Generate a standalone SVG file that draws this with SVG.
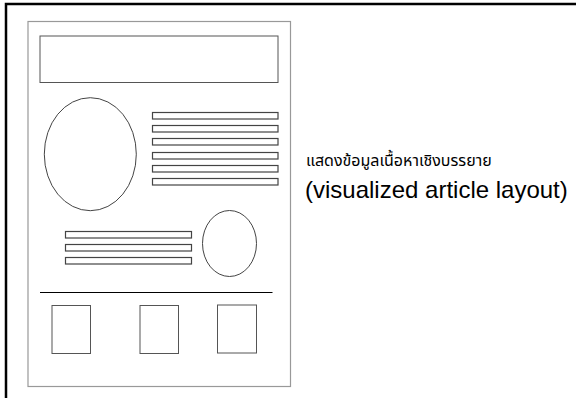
<svg xmlns="http://www.w3.org/2000/svg" width="576" height="398" viewBox="0 0 576 398">
<style>
.frame{fill:none;stroke:#000;stroke-width:2.5}
.page{fill:#fff;stroke:#999;stroke-width:1.2}
.box{fill:#fff;stroke:#555;stroke-width:1}
.bar{fill:#fff;stroke:#444;stroke-width:1.2}
.ell{fill:#fff;stroke:#444;stroke-width:1}
.rule{stroke:#000;stroke-width:1.2}
.th{font-family:"Liberation Sans","Noto Sans Thai","Noto Sans",sans-serif;font-size:16px;fill:#000}
.en{font-family:"Liberation Sans",Arial,sans-serif;font-size:24px;fill:#000}
</style>
<rect width="576" height="398" fill="#fff"/>
<g id="frame">
<path class="frame" d="M6,398 V4 H576"/>
</g>
<g id="page">
<rect class="page" x="28" y="21.5" width="262.5" height="365"/>
<rect class="box" x="40" y="36" width="238" height="46.5"/>
<ellipse class="ell" cx="90.3" cy="154.2" rx="46" ry="56.5"/>
<rect class="bar" x="152.5" y="112.5" width="125.5" height="6.5"/>
<rect class="bar" x="152.5" y="125.5" width="125.5" height="6.5"/>
<rect class="bar" x="152.5" y="138.5" width="125.5" height="6.5"/>
<rect class="bar" x="152.5" y="152.5" width="125.5" height="6.5"/>
<rect class="bar" x="152.5" y="165.5" width="125.5" height="6.5"/>
<rect class="bar" x="152.5" y="178.5" width="125.5" height="6.5"/>
<rect class="bar" x="65.5" y="231.5" width="126" height="6.5"/>
<rect class="bar" x="65.5" y="244.5" width="126" height="6.5"/>
<rect class="bar" x="65.5" y="257.5" width="126" height="6.5"/>
<ellipse class="ell" cx="229.5" cy="243.5" rx="27" ry="33"/>
<line class="rule" x1="40" y1="292.5" x2="272.5" y2="292.5"/>
<rect class="box" x="52" y="305.5" width="38.5" height="48"/>
<rect class="box" x="140" y="305.5" width="38.5" height="48"/>
<rect class="box" x="217.5" y="305" width="39" height="48"/>
</g>
<g id="caption">
<text class="th" x="306" y="166">แสดงข้อมูลเนื้อหาเชิงบรรยาย</text>
<text class="en" x="305" y="198">(visualized article layout)</text>
</g>
</svg>
